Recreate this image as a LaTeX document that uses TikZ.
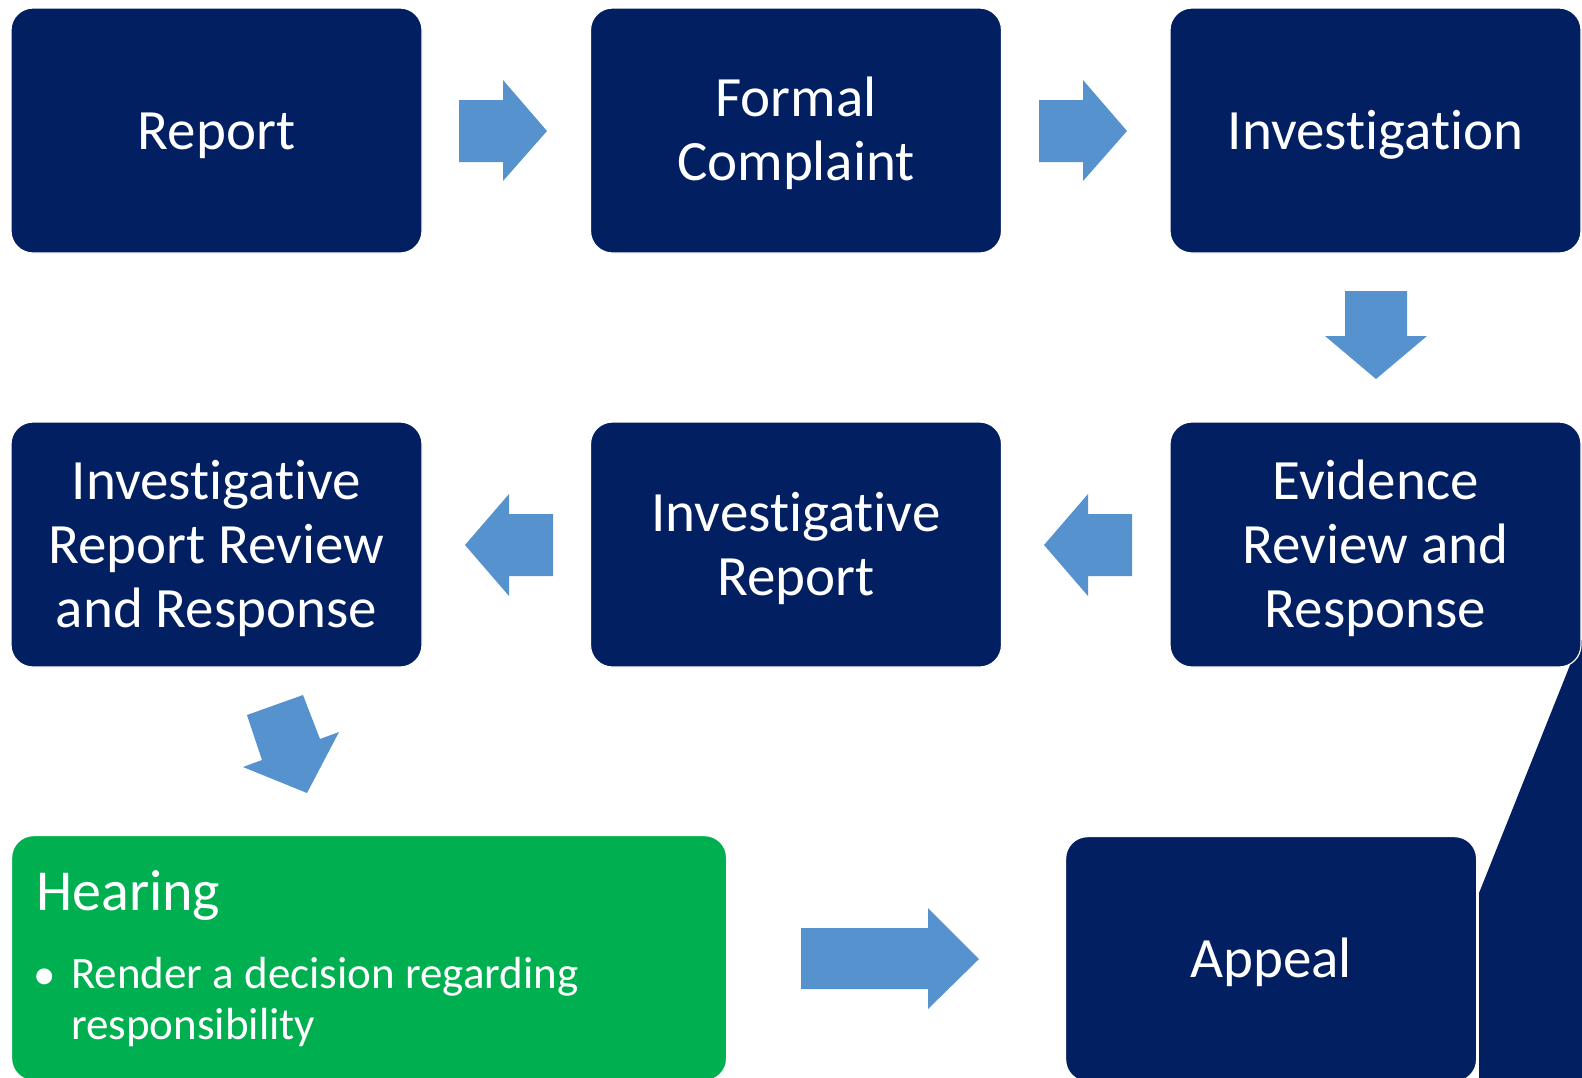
\documentclass[tikz,border=0pt]{standalone}
\usepackage{fontspec}
\setmainfont[Ligatures=NoCommon]{Carlito}
\definecolor{navy}{HTML}{022061}
\definecolor{arrblue}{HTML}{5592CE}
\definecolor{hgreen}{HTML}{00B050}
\begin{document}
\begin{tikzpicture}[x=1pt,y=-1pt,
  box/.style={draw=white, line width=1.2pt, fill=navy, rounded corners=22pt,
    minimum width=411pt, minimum height=245pt, inner sep=0pt},
  btext/.style={text=white, align=center, font=\fontsize{57}{64}\selectfont, inner sep=0pt},
  arr/.style={fill=arrblue},
  wtext/.style={text=white, inner sep=0pt}]
\useasboundingbox (0,0) rectangle (1582,1077);
% dark side panel behind evidence box
\fill[navy] (1479,1095) -- (1479,893) -- (1580,640) -- (1595,640) -- (1595,1095) -- cycle;
% boxes
\node[box] (report) at (216.5,130.5) {};
\node[box] (formal) at (796,130.5) {};
\node[box] (invest) at (1375.5,130.5) {};
\node[box] (irr) at (216.5,544.5) {};
\node[box] (ir) at (796,544.5) {};
\node[box] (evid) at (1375.5,544.5) {};
\node[box, fill=hgreen, minimum width=715pt, anchor=north west] (hearing) at (11,835) {};
\node[box, anchor=north west] (appeal) at (1065,836) {};
% box texts
\node[btext] (reportt) at ([yshift=-5pt]report.center) {Report};
\node[btext] (formalt) at ([yshift=-3pt]formal.center) {Formal\\Complaint};
\node[btext] (investt) at ([yshift=-4pt]invest.center) {Investigation};
\node[btext] (irrt) at ([yshift=-4pt]irr.center) {Investigative\\Report Review\\and Response};
\node[btext] (irt) at ([yshift=-4pt]ir.center) {Investigative\\Report};
\node[btext] (evidt) at ([yshift=-4pt]evid.center) {Evidence\\Review and\\Response};
\node[btext] (appealt) at ([yshift=-3pt]appeal.center) {Appeal};
\node[wtext, anchor=base west, font=\fontsize{58}{64}\selectfont] (htitle) at (36,910) {Hearing};
\node[wtext, anchor=base, font=\fontsize{45}{51}\selectfont] (hbullet) at (45,989) {•};
\node[wtext, anchor=base west, align=left, font=\fontsize{45}{51}\selectfont] (hbody) at (71,1039) {Render a decision regarding\\responsibility};
% block arrows
\fill[arr] (459,100) -- (503,100) -- (503,80) -- (547,131) -- (503,181) -- (503,162) -- (459,162) -- cycle;
\fill[arr] (1039,100) -- (1083,100) -- (1083,80) -- (1127,131) -- (1083,181) -- (1083,162) -- (1039,162) -- cycle;
\fill[arr] (1345,291) -- (1407,291) -- (1407,336) -- (1427,336) -- (1376,379) -- (1325,336) -- (1345,336) -- cycle;
\fill[arr] (1132,514) -- (1088,514) -- (1088,494) -- (1044,545) -- (1088,596) -- (1088,576) -- (1132,576) -- cycle;
\fill[arr] (553,514) -- (509,514) -- (509,494) -- (465,545) -- (509,596) -- (509,576) -- (553,576) -- cycle;
\fill[arr] (247,715) -- (303,695) -- (320,739) -- (339,732) -- (307,793) -- (243,767) -- (262,760) -- cycle;
\fill[arr] (801,928) -- (928,928) -- (928,908) -- (979,959) -- (928,1009) -- (928,989) -- (801,989) -- cycle;
\end{tikzpicture}
\end{document}
